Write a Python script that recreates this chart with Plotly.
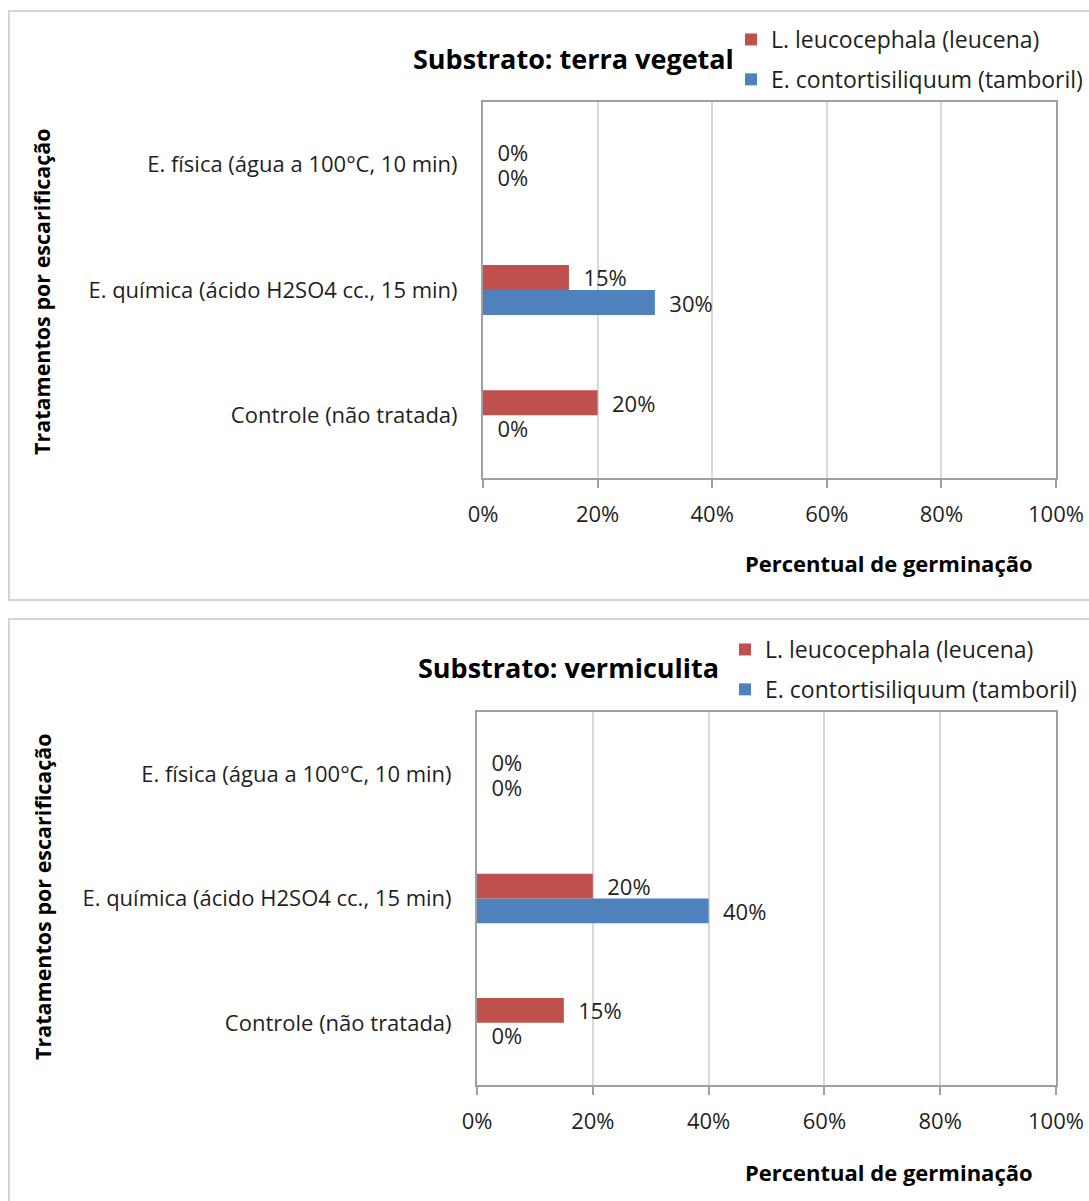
import plotly.graph_objects as go

W, H = 1089, 1201

categories = ["Controle (não tratada)", "E. química (ácido H2SO4 cc., 15 min)", "E. física (água a 100°C, 10 min)"]
series_names = ["L. leucocephala (leucena)", "E. contortisiliquum (tamboril)"]
terra_leucena = [20, 15, 0]
terra_tamboril = [0, 30, 0]
verm_leucena = [15, 20, 0]
verm_tamboril = [0, 40, 0]
titles = ["Substrato: terra vegetal", "Substrato: vermiculita"]
x_title = "Percentual de germinação"
y_title = "Tratamentos por escarificação"
tick_vals = [0, 20, 40, 60, 80, 100]
tick_text = ["0%", "20%", "40%", "60%", "80%", "100%"]

RED = "#C0504D"
BLUE = "#4F81BD"
FONT = "Open Sans"
TXT = "#1f1f1f"
PAD = "\u00a0\u00a0"
FS = 22

def px(x):
    return x / W

def py(y):
    return 1 - y / H

fig = go.Figure()

panels = [
    dict(leu=terra_leucena, tam=terra_tamboril, xa="x", ya="y", legend="legend",
         dom_x=[px(483), px(1056)], dom_y=[py(478), py(102)],
         title=titles[0], title_xy=(573, 58), leg_xy=(731, 18), xt_xy=(889, 563), yt_xy=(42, 292)),
    dict(leu=verm_leucena, tam=verm_tamboril, xa="x2", ya="y2", legend="legend2",
         dom_x=[px(477), px(1056)], dom_y=[py(1085), py(712)],
         title=titles[1], title_xy=(568, 667), leg_xy=(725, 628), xt_xy=(889, 1172), yt_xy=(42, 897)),
]

annotations = []
shapes = []
for i, p in enumerate(panels):
    # blue first so red sits above it within each group
    fig.add_trace(go.Bar(
        y=categories, x=p["tam"], orientation="h", name=series_names[1],
        marker=dict(color=BLUE), xaxis=p["xa"], yaxis=p["ya"], legend=p["legend"],
        legendgroup=f"tam{i}", legendrank=2,
        texttemplate=PAD + "%{x:.0f}%", textposition="outside", cliponaxis=False, constraintext="none",
        textfont=dict(family=FONT, size=FS, color=TXT), hoverinfo="skip",
    ))
    fig.add_trace(go.Bar(
        y=categories, x=p["leu"], orientation="h", name=series_names[0],
        marker=dict(color=RED), xaxis=p["xa"], yaxis=p["ya"], legend=p["legend"],
        legendgroup=f"leu{i}", legendrank=1,
        texttemplate=PAD + "%{x:.0f}%", textposition="outside", cliponaxis=False, constraintext="none",
        textfont=dict(family=FONT, size=FS, color=TXT), hoverinfo="skip",
    ))
    tx, ty = p["title_xy"]
    annotations.append(dict(text=f"<b>{p['title']}</b>", x=px(tx), y=py(ty), xref="paper", yref="paper",
                            xanchor="center", yanchor="middle", showarrow=False,
                            font=dict(family=FONT, size=27, color="#000")))
    xx, xy = p["xt_xy"]
    annotations.append(dict(text=f"<b>{x_title}</b>", x=px(xx), y=py(xy), xref="paper", yref="paper",
                            xanchor="center", yanchor="middle", showarrow=False,
                            font=dict(family=FONT, size=22, color="#000")))
    yx, yy = p["yt_xy"]
    annotations.append(dict(text=f"<b>{y_title}</b>", x=px(yx), y=py(yy), xref="paper", yref="paper",
                            xanchor="center", yanchor="middle", showarrow=False, textangle=-90,
                            font=dict(family=FONT, size=21.5, color="#000")))

shapes.append(dict(type="rect", xref="paper", yref="paper", x0=px(9), x1=1.02, y0=py(600), y1=py(11),
                   line=dict(color="#d4d4d4", width=2), fillcolor="rgba(0,0,0,0)", layer="below"))
shapes.append(dict(type="rect", xref="paper", yref="paper", x0=px(9), x1=1.02, y0=-0.02, y1=py(619),
                   line=dict(color="#d4d4d4", width=2), fillcolor="rgba(0,0,0,0)", layer="below"))

axis_common_x = dict(range=[0, 100], tickmode="array", tickvals=tick_vals, ticktext=tick_text, showgrid=True,
                     gridcolor="#d9d9d9", gridwidth=1.5, showline=True, linecolor="#a0a0a0", linewidth=2,
                     mirror=True, ticks="outside", ticklen=8, tickcolor="#a0a0a0", tickwidth=2,
                     zeroline=False, ticklabelstandoff=8, fixedrange=True, automargin=False,
                     tickfont=dict(family=FONT, size=FS, color=TXT))
axis_common_y = dict(type="category", categoryorder="array", categoryarray=categories,
                     showline=True, linecolor="#a0a0a0", linewidth=2, mirror=True, ticks="",
                     showgrid=False, ticklabelstandoff=19, fixedrange=True, automargin=False,
                     tickfont=dict(family=FONT, size=FS, color=TXT))

legend_common = dict(xref="paper", yref="paper", xanchor="left", yanchor="top",
                     bgcolor="rgba(0,0,0,0)", font=dict(family=FONT, size=23, color=TXT),
                     tracegroupgap=7, itemwidth=30, traceorder="grouped")

fig.update_layout(
    template="none",
    width=W, height=H, margin=dict(l=0, r=0, t=0, b=0, autoexpand=False),
    paper_bgcolor="white", plot_bgcolor="white",
    barmode="group", bargap=0.6, bargroupgap=0,
    showlegend=True,
    xaxis=dict(domain=panels[0]["dom_x"], anchor="y", **axis_common_x),
    yaxis=dict(domain=panels[0]["dom_y"], anchor="x", **axis_common_y),
    xaxis2=dict(domain=panels[1]["dom_x"], anchor="y2", **axis_common_x),
    yaxis2=dict(domain=panels[1]["dom_y"], anchor="x2", **axis_common_y),
    legend=dict(x=px(panels[0]["leg_xy"][0]), y=py(panels[0]["leg_xy"][1]), **legend_common),
    legend2=dict(x=px(panels[1]["leg_xy"][0]), y=py(panels[1]["leg_xy"][1]), **legend_common),
    annotations=annotations, shapes=shapes,
)

fig.write_html("out.html")
